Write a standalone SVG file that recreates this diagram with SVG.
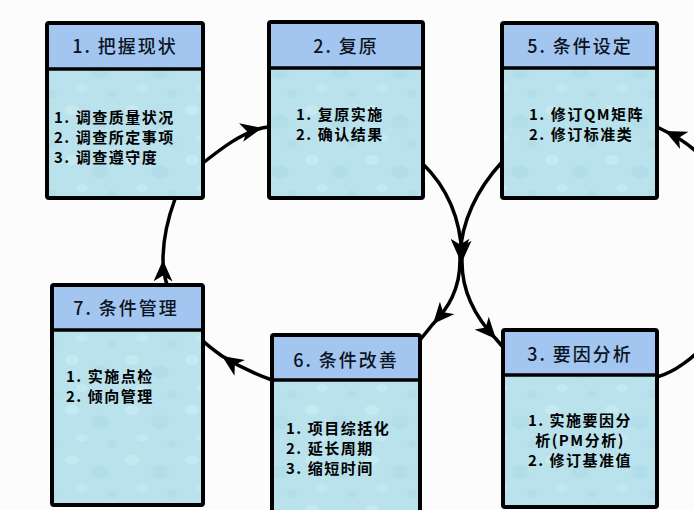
<svg xmlns="http://www.w3.org/2000/svg" width="694" height="510" viewBox="0 0 694 510">
<defs>
<style>
.box{stroke:#000;stroke-width:4;}
.hd{fill:#a3c6f0;}
.bd{fill:url(#drops);}
.div{stroke:#000;stroke-width:3.5;}
.ht{font-family:"Noto Sans CJK SC","Liberation Serif",serif;font-size:18px;font-weight:500;fill:#0c1424;text-anchor:middle;letter-spacing:2px;}
.bt{font-family:"Noto Sans CJK SC","Liberation Serif",serif;font-size:15px;font-weight:bold;fill:#000;letter-spacing:1.5px;}
.c{fill:none;stroke:#000;stroke-width:3.5;}
</style>
<pattern id="drops" patternUnits="userSpaceOnUse" width="60" height="50">
<rect width="60" height="50" fill="#b9e2ec"/>
<ellipse cx="12" cy="10" rx="7" ry="5" fill="#cdeef4" opacity="0.6"/>
<ellipse cx="40" cy="22" rx="9" ry="7" fill="#a8d8e5" opacity="0.4"/>
<ellipse cx="22" cy="38" rx="6" ry="4" fill="#cfeef5" opacity="0.5"/>
<ellipse cx="52" cy="44" rx="5" ry="4" fill="#aad8e4" opacity="0.4"/>
</pattern>
<marker id="ah" viewBox="0 0 18 16" markerWidth="22" markerHeight="19" refX="18" refY="8" orient="auto" markerUnits="userSpaceOnUse">
<path d="M0,0 L18,8 L0,16 L5,8 z" fill="#000"/>
</marker>
</defs>
<rect width="694" height="510" fill="#fbfcfb"/>

<g id="connectors">
<path class="c" d="M203,163 C222,148 240,134 262,128 L268,127" marker-mid="url(#ah)"/>
<path class="c" d="M422,163 C450,190 462,225 462,262 C462,295 478,320 496,339 L502,346" marker-mid="url(#ah)"/>
<path class="c" d="M502,162 C478,188 460,222 460,260 C460,290 448,308 433,324 L420,340" marker-mid="url(#ah)"/>
<path class="c" d="M657,377 C690,368 740,320 740,260 C740,190 705,150 665,131 L657,127" marker-mid="url(#ah)"/>
<path class="c" d="M272,380 C255,374 238,366 222,356 C215,351 208,346 202,340" marker-mid="url(#ah)"/>
<path class="c" d="M167,285 C164,275 163,268 163,260 C163,240 168,218 175,199" marker-mid="url(#ah)"/>
</g>

<g id="n1">
<rect class="box bd" x="47" y="23" width="156" height="175" rx="2"/>
<rect class="hd" x="49" y="25" width="152" height="44"/>
<line class="div" x1="47" y1="69" x2="203" y2="69"/>
<text class="ht" x="125" y="53">1. 把握现状</text>
<text class="bt" x="54" y="123">1. 调查质量状况</text>
<text class="bt" x="54" y="143">2. 调查所定事项</text>
<text class="bt" x="54" y="163">3. 调查遵守度</text>
</g>

<g id="n2">
<rect class="box bd" x="269" y="22" width="154" height="176" rx="2"/>
<rect class="hd" x="271" y="24" width="150" height="44"/>
<line class="div" x1="269" y1="68" x2="423" y2="68"/>
<text class="ht" x="346" y="53">2. 复原</text>
<text class="bt" x="296" y="120">1. 复原实施</text>
<text class="bt" x="296" y="140">2. 确认结果</text>
</g>

<g id="n5">
<rect class="box bd" x="502" y="23" width="155" height="175" rx="2"/>
<rect class="hd" x="504" y="25" width="151" height="43"/>
<line class="div" x1="502" y1="68" x2="657" y2="68"/>
<text class="ht" x="580" y="53">5. 条件设定</text>
<text class="bt" x="529" y="120">1. 修订QM矩阵</text>
<text class="bt" x="529" y="140">2. 修订标准类</text>
</g>

<g id="n7">
<rect class="box bd" x="52" y="285" width="151" height="220" rx="2"/>
<rect class="hd" x="54" y="287" width="147" height="43"/>
<line class="div" x1="52" y1="330" x2="203" y2="330"/>
<text class="ht" x="126" y="315">7. 条件管理</text>
<text class="bt" x="66" y="382">1. 实施点检</text>
<text class="bt" x="66" y="402">2. 倾向管理</text>
</g>

<g id="n6">
<rect class="box bd" x="272" y="335" width="148" height="185" rx="2"/>
<rect class="hd" x="274" y="337" width="144" height="43"/>
<line class="div" x1="272" y1="380" x2="420" y2="380"/>
<text class="ht" x="346" y="367">6. 条件改善</text>
<text class="bt" x="286" y="434">1. 项目综括化</text>
<text class="bt" x="286" y="454">2. 延长周期</text>
<text class="bt" x="286" y="474">3. 缩短时间</text>
</g>

<g id="n3">
<rect class="box bd" x="503" y="330" width="154" height="177" rx="2"/>
<rect class="hd" x="505" y="332" width="150" height="43"/>
<line class="div" x1="503" y1="375" x2="657" y2="375"/>
<text class="ht" x="580" y="361">3. 要因分析</text>
<text class="bt" x="580" y="426" text-anchor="middle">1. 实施要因分</text>
<text class="bt" x="580" y="446" text-anchor="middle">析(PM分析)</text>
<text class="bt" x="580" y="466" text-anchor="middle">2. 修订基准值</text>
</g>
</svg>
